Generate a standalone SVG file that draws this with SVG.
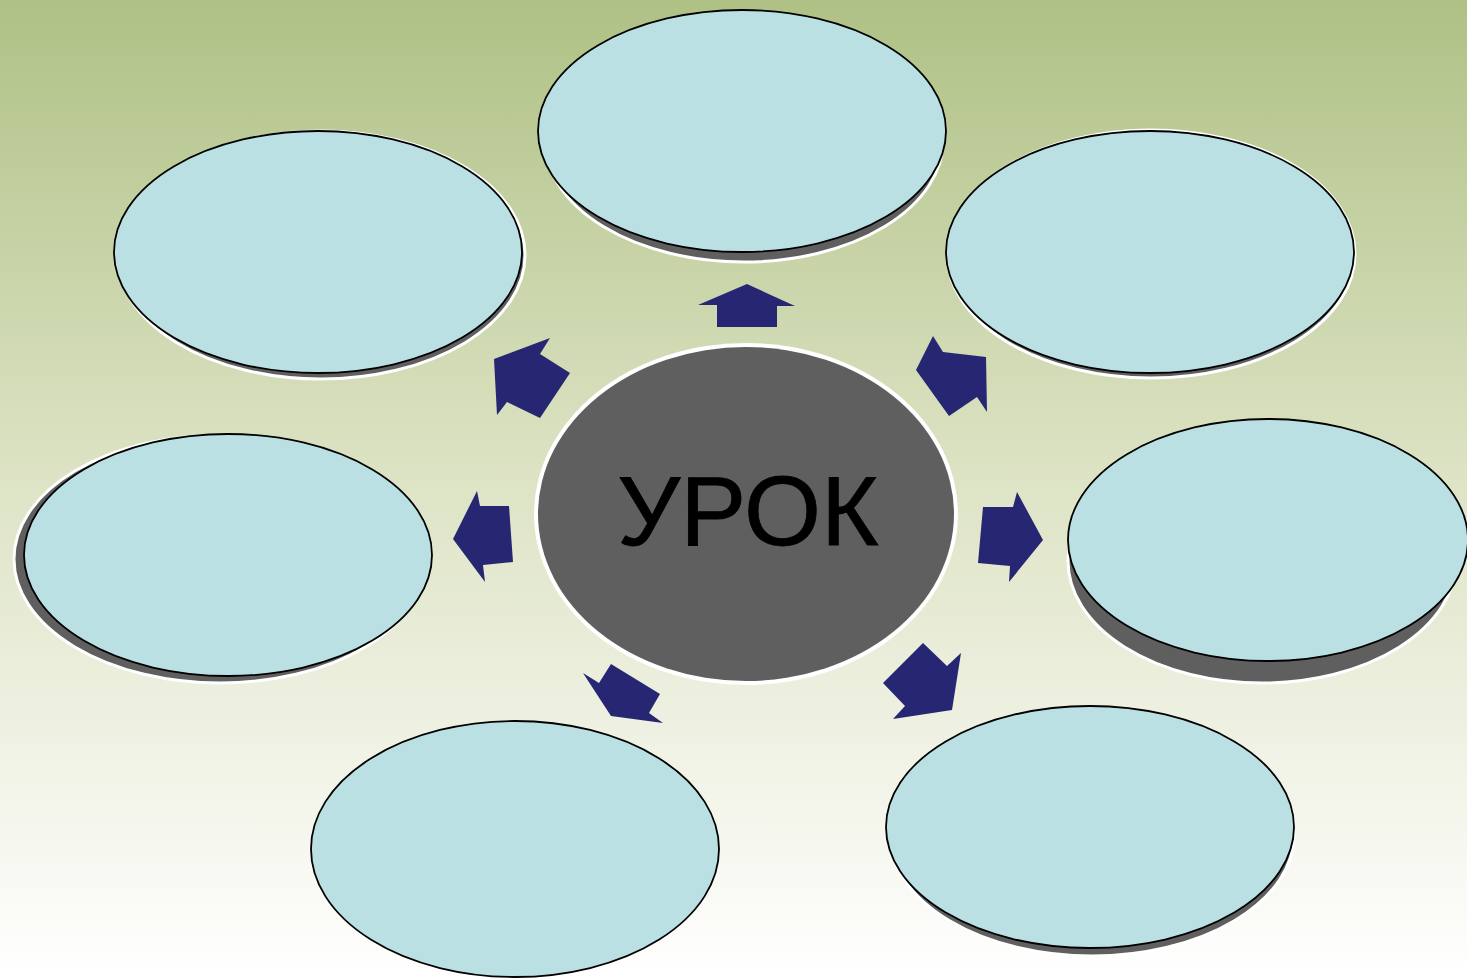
<svg xmlns="http://www.w3.org/2000/svg" width="1467" height="978" viewBox="0 0 1467 978">
<defs>
<linearGradient id="bg" x1="0" y1="0" x2="0" y2="1">
<stop offset="0" stop-color="#afc185"/>
<stop offset="0.5" stop-color="#dee4c6"/>
<stop offset="1" stop-color="#ffffff"/>
</linearGradient>
<style>
.node{fill:#bbe0e3;stroke:#000;stroke-width:1.8}
.sh{fill:#5f5f5f;stroke:#fff;stroke-width:3}
.arr{fill:#262672}
.lbl{font-family:"Liberation Sans",Arial,sans-serif;font-size:99px;fill:#000;text-anchor:middle}
</style>
</defs>
<rect width="1467" height="978" fill="url(#bg)"/>
<g id="center">
<ellipse cx="746" cy="514" rx="212" ry="171" fill="#fff"/>
<ellipse cx="746" cy="514" rx="208" ry="167" fill="#5f5f5f"/>
<text class="lbl" x="748" y="545" stroke="#000" stroke-width="0.8">УРОК</text>
</g>
<g id="node-top">
<ellipse class="sh" cx="744" cy="141" rx="199" ry="121"/>
<ellipse class="node" cx="742" cy="131" rx="204" ry="121"/>
</g>
<g id="node-upper-left">
<ellipse class="sh" cx="321" cy="255" rx="204" ry="124"/>
<ellipse class="node" cx="318" cy="252" rx="204" ry="121"/>
</g>
<g id="node-upper-right">
<ellipse class="sh" cx="1151" cy="254" rx="204" ry="124"/>
<ellipse class="node" cx="1150" cy="252" rx="204" ry="121"/>
</g>
<g id="node-left">
<ellipse class="sh" cx="220" cy="559" rx="206" ry="124"/>
<ellipse class="node" cx="228" cy="555" rx="204" ry="121"/>
</g>
<g id="node-right">
<ellipse class="sh" cx="1262" cy="561" rx="194" ry="122"/>
<ellipse class="node" cx="1268" cy="540" rx="200" ry="121"/>
</g>
<g id="node-bottom-left">
<ellipse class="node" cx="515" cy="849" rx="204" ry="128"/>
</g>
<g id="node-bottom-right">
<ellipse class="sh" cx="1092" cy="835" rx="202" ry="121"/>
<ellipse class="node" cx="1090" cy="827" rx="204" ry="121"/>
</g>
<g id="connectors">
<polygon class="arr" points="747,284 795,306 777,306 777,327 717,327 717,305 698,305"/>
<polygon class="arr" points="494,359 550,338 540,354 570,373 540,418 507,402 497,415"/>
<polygon class="arr" points="453,539 477,491 480,506 509,506 513,562 483,565 485,582"/>
<polygon class="arr" points="583,673 599,683 611,664 660,694 649,713 663,723 611,716"/>
<polygon class="arr" points="883,683 923,643 947,666 961,653 952,710 893,719 905,706"/>
<polygon class="arr" points="983,507 1013,507 1017,492 1043,540 1009,582 1010,566 978,563"/>
<polygon class="arr" points="933,336 943,352 986,357 987,412 977,397 949,416 916,370"/>
</g>
</svg>
